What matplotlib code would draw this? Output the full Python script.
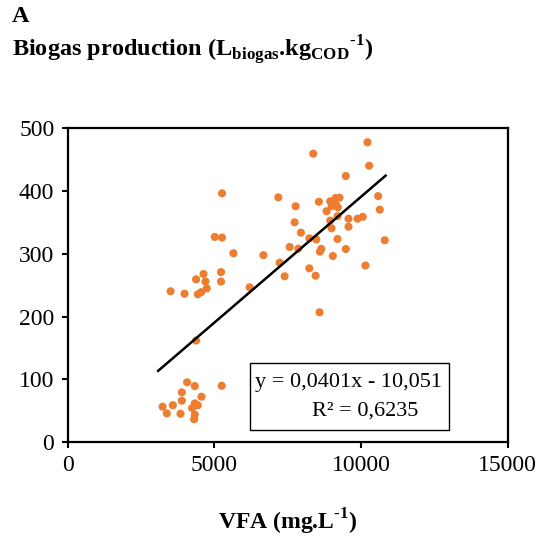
import numpy as np
import matplotlib
matplotlib.use("Agg")
import matplotlib.pyplot as plt
from matplotlib.patches import Rectangle

plt.rcParams['font.family'] = ['Liberation Serif', 'DejaVu Serif']
plt.rcParams['mathtext.fontset'] = 'custom'
plt.rcParams['mathtext.rm'] = 'Liberation Serif'
plt.rcParams['mathtext.bf'] = 'Liberation Serif:bold'

# VFA (mg/L) vs biogas production (L biogas / kg COD)
vfa = [4075, 4337, 5255, 3895, 4564, 3895, 3588, 3238, 4337, 4439, 4245, 3384, 3850, 4337, 4313,
       5265, 5017, 5265, 5653, 4633, 4381, 4700, 5231, 5231, 4745, 4551, 4439, 3510, 3986, 4381, 6207,
       10221, 8374, 10278, 9483, 7183, 8565, 8951, 9133, 9269, 9075, 9211, 7772, 8827, 10585, 10640,
       7738, 8952, 9200, 9575, 9881, 10061, 7952, 8997, 9575, 8238, 8476, 9200, 7568, 7863, 8646,
       8599, 9041, 9483, 10810, 6673, 7228, 10153, 8238, 7398, 8452, 8588, 9000, 9150]
biogas = [95.5, 89.6, 90, 79.6, 72.6, 66.3, 59, 56.7, 62, 59, 54.6, 46, 45.5, 44, 36.6,
          396.5, 327, 326, 301, 268, 259.5, 256, 271, 256, 245, 239, 235.7, 240.5, 236.6, 162, 246.8,
          477.7, 459.6, 440.4, 424, 390, 383, 383.7, 389, 389.5, 380.6, 374, 375.8, 368, 392, 370.4,
          350.3, 353, 360, 356, 356, 359, 333.8, 340.8, 343.3, 324.8, 323, 323.7, 311, 308.3, 308,
          303.5, 296.7, 307.8, 321.7, 298, 286, 281.5, 277, 264.3, 265.3, 207, 376, 378]

# linear trendline as reported
slope = 0.0401
intercept = -10.051
r2 = 0.6235

x = np.array(vfa)
y = np.array(biogas)

fig = plt.figure(figsize=(5.45, 5.39), dpi=100)
ax = fig.add_axes([0.1239, 0.1794, 0.8077, 0.5826])

ax.scatter(x, y, s=34, color='#ED7D31', edgecolors='none', zorder=3)
xl = np.array([x.min() - 150, x.max() + 30])
ax.plot(xl, slope * xl + intercept, color='black', lw=1.8, zorder=4)

ax.set_xlim(0, 15000)
ax.set_ylim(0, 500)
ax.set_xticks([0, 5000, 10000, 15000])
ax.set_yticks([0, 100, 200, 300, 400, 500])
ax.tick_params(direction='out', length=4.5, width=1.5, labelsize=17, pad=5)
for s in ax.spines.values():
    s.set_linewidth(1.6)

# hyphen (U+2010) keeps the small "-1" look instead of a wide minus
ax.set_xlabel('VFA (mg.L$^{\\mathbf{\u20101}}$)', fontsize=17, fontweight='bold', labelpad=22)

# equation box
ax.add_patch(Rectangle((0.4146, 0.039), 0.452, 0.2135, transform=ax.transAxes,
                       facecolor='white', edgecolor='black', lw=1.0, zorder=5))
eq = 'y = {}x - {}'.format(str(slope).replace('.', ','), str(abs(intercept)).replace('.', ','))
ax.text(0.638, 0.19, eq, transform=ax.transAxes, ha='center', va='center', fontsize=16, zorder=6)
ax.text(0.676, 0.1, 'R² = ' + str(r2).replace('.', ','), transform=ax.transAxes,
        ha='center', va='center', fontsize=16, zorder=6)

fig.text(12 / 545, 1 - 17 / 539, 'A', fontsize=17.5, fontweight='bold', va='center')
fig.text(12 / 545, 1 - 50 / 539,
         'Biogas production (L$_{\\mathbf{biogas}}$.kg$_{\\mathbf{COD}}$$^{\\mathbf{\u20101}}$)',
         fontsize=17.5, fontweight='bold', va='center')

fig.savefig('out.png', dpi=100)
